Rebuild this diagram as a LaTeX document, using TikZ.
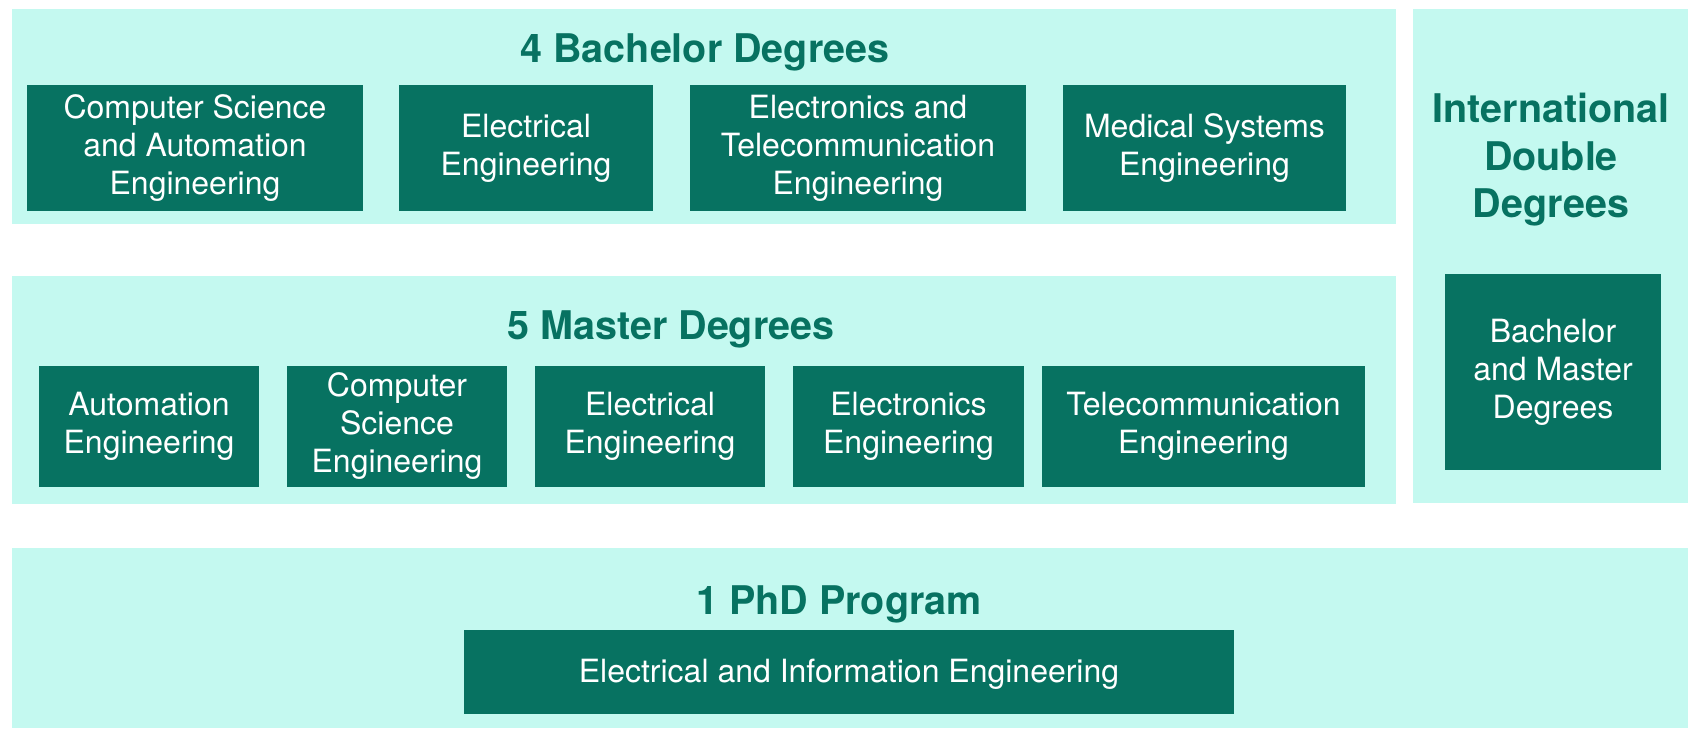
\documentclass[tikz,border=0pt]{standalone}
\usepackage{fontspec}
\setmainfont{TeX Gyre Heros}
\definecolor{panelmint}{HTML}{C4F9F0}
\definecolor{deepteal}{HTML}{077261}

\begin{document}
\begin{tikzpicture}[x=1pt,y=-1pt,
    panel/.style={fill=panelmint},
    headline/.style={text=deepteal,font=\fontsize{39.5}{47.5}\selectfont\bfseries,
      align=center,inner sep=0pt},
    degree/.style={fill=deepteal,text=white,font=\fontsize{32}{38}\selectfont,
      align=center,inner sep=0pt,minimum height=126pt,
      execute at begin node={\rule{0pt}{28pt}}}]

    \useasboundingbox (0,0) rectangle (1688,728);

    % bachelor
    \fill[panel] (12,9) rectangle (1396,224);
    \node[headline] (bachelortitle) at (705,52) {4 Bachelor Degrees};
    \node[degree,minimum width=336pt] (bcsa) at (195,148)
    {Computer Science\\and Automation\\Engineering};
    \node[degree,minimum width=254pt] (bee) at (526,148)
    {Electrical\\Engineering};
    \node[degree,minimum width=336pt] (bete) at (858,148)
    {Electronics and\\Telecommunication\\Engineering};
    \node[degree,minimum width=283pt] (bmse) at (1204.5,148)
    {Medical Systems\\Engineering};

    % master
    \fill[panel] (12,276) rectangle (1396,504);
    \node[headline] (mastertitle) at (671,329) {5 Master Degrees};

    \begin{scope}[degree/.append style={minimum height=121pt}]
      \node[degree,minimum width=220pt] (mae) at (149,426.5)
      {Automation\\Engineering};
      \node[degree,minimum width=220pt] (mcse) at (397,426.5)
      {Computer\\Science\\Engineering};
      \node[degree,minimum width=230pt] (mee) at (650,426.5)
      {Electrical\\Engineering};
      \node[degree,minimum width=231pt] (mele) at (908.5,426.5)
      {Electronics\\Engineering};
      \node[degree,minimum width=323pt] (mte) at (1203.5,426.5)
      {Telecommunication\\Engineering};
    \end{scope}

    % double degrees
    \fill[panel] (1413,9) rectangle (1688,503);
    \node[headline] (doubletitle) at (1551,160)
    {International\\Double\\Degrees};
    \node[degree,minimum width=216pt,minimum height=196pt] (dbm) at (1553,372)
    {Bachelor\\and Master\\Degrees};

    % phd
    \fill[panel] (12,548) rectangle (1688,728);
    \node[headline] (phdtitle) at (839,604) {1 PhD Program};
    \node[degree,minimum width=770pt,minimum height=84pt] (pie) at (849,672)
    {Electrical and Information Engineering};

\end{tikzpicture}
\end{document}
